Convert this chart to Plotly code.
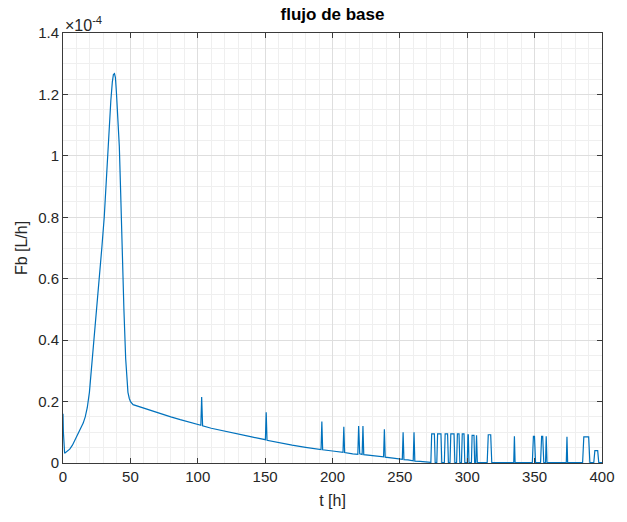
import plotly.graph_objects as go

# Base flow Fb over time, values in units of 1e-4 L/h
t_h = [
    0.0, 0.3, 1.2, 3.0, 5.0, 7.0, 9.0, 11.0, 13.0, 15.0, 16.5, 18.0, 19.6, 20.8,
    22.0, 23.2, 25.0, 26.9, 28.8, 30.6, 32.4, 34.2, 35.5, 36.6, 37.4, 38.2, 38.9,
    39.6, 40.6, 41.4, 41.8, 42.8, 44.0, 45.2, 46.5, 47.3, 48.2, 49.2, 50.1, 52.0,
    60.0, 70.0, 80.0, 87.0, 95.0, 102.3, 102.9, 103.6,
    110.0, 120.0, 130.0, 140.0, 150.2, 150.8, 151.4,
    160.0, 170.0, 180.0, 191.5, 192.1, 192.7,
    200.0, 207.8, 208.4, 209.0,
    215.0, 218.8, 219.4, 220.2, 222.0, 222.6, 223.2,
    230.0, 237.9, 238.5, 239.1,
    245.0, 251.8, 252.4, 253.0,
    256.0, 259.9, 260.5, 261.1,
    265.0, 270.0, 273.0, 273.6, 275.6, 276.2,
    277.4, 278.0, 280.5, 281.1,
    283.0, 283.6, 285.4, 286.0,
    287.2, 287.8, 290.2, 290.8,
    292.1, 292.7, 293.9, 294.5,
    295.7, 296.3, 297.6, 298.2,
    300.0, 300.5, 300.8, 301.3,
    303.1, 303.6, 305.0, 305.5,
    306.3, 306.9, 307.5,
    314.8, 315.6, 317.4, 318.2,
    334.5, 335.0, 335.5,
    348.3, 349.1, 349.9, 350.7,
    354.4, 355.2, 356.0, 356.8,
    358.1, 358.6, 359.2,
    373.5, 374.0, 374.5,
    385.6, 386.5, 390.1, 391.0,
    393.9, 394.7, 396.8, 397.6,
    400.0,
]

fb_e4 = [
    0.160, 0.100, 0.032, 0.037, 0.045, 0.058, 0.076, 0.095, 0.112, 0.130, 0.150, 0.180, 0.230, 0.290,
    0.350, 0.400, 0.490, 0.600, 0.700, 0.800, 0.950, 1.095, 1.180, 1.240, 1.265, 1.268, 1.255,
    1.210, 1.130, 1.080, 1.030, 0.880, 0.670, 0.500, 0.340, 0.280, 0.230, 0.210, 0.200, 0.190,
    0.178, 0.163, 0.150, 0.141, 0.132, 0.123, 0.215, 0.121,
    0.113, 0.103, 0.094, 0.085, 0.076, 0.165, 0.074,
    0.066, 0.058, 0.051, 0.044, 0.135, 0.043,
    0.039, 0.035, 0.118, 0.034,
    0.030, 0.028, 0.120, 0.030, 0.028, 0.120, 0.027,
    0.024, 0.020, 0.110, 0.019,
    0.016, 0.012, 0.100, 0.011,
    0.010, 0.007, 0.100, 0.006,
    0.005, 0.003, 0.002, 0.095, 0.095, 0.001,
    0.001, 0.095, 0.095, 0.001,
    0.001, 0.095, 0.095, 0.001,
    0.001, 0.095, 0.095, 0.001,
    0.001, 0.095, 0.095, 0.001,
    0.001, 0.095, 0.095, 0.001,
    0.001, 0.092, 0.092, 0.001,
    0.001, 0.090, 0.090, 0.001,
    0.001, 0.090, 0.001,
    0.001, 0.092, 0.092, 0.001,
    0.001, 0.087, 0.001,
    0.001, 0.087, 0.087, 0.001,
    0.001, 0.087, 0.087, 0.001,
    0.001, 0.087, 0.001,
    0.001, 0.085, 0.001,
    0.001, 0.085, 0.085, 0.001,
    0.001, 0.040, 0.040, 0.001,
    0.001,
]

x_ticks = [0, 50, 100, 150, 200, 250, 300, 350, 400]
y_ticks = [0, 0.2, 0.4, 0.6, 0.8, 1.0, 1.2, 1.4]
y_tick_text = ["0", "0.2", "0.4", "0.6", "0.8", "1", "1.2", "1.4"]

FONT = "Liberation Sans, Arial, sans-serif"
AX = "#262626"

fig = go.Figure()
fig.add_trace(go.Scatter(
    x=t_h, y=fb_e4, mode="lines",
    line=dict(color="#0072BD", width=1.2),
    showlegend=False,
))

axis_common = dict(
    showline=True, linecolor="#3a3a3a", linewidth=1, mirror="ticks",
    ticks="inside", ticklen=5, tickcolor="#3a3a3a", tickwidth=1,
    showgrid=True, gridcolor="#dedede", gridwidth=1,
    zeroline=False,
    tickfont=dict(family=FONT, size=15, color=AX),
)

fig.update_xaxes(
    range=[0, 400], tickvals=x_ticks,
    minor=dict(dtick=10, showgrid=True, gridcolor="#efefef", gridwidth=1, ticks=""),
    title=dict(text="t [h]", font=dict(family=FONT, size=16, color=AX), standoff=10),
    **axis_common,
)
fig.update_yaxes(
    range=[0, 1.4], tickvals=y_ticks, ticktext=y_tick_text,
    minor=dict(dtick=0.05, showgrid=True, gridcolor="#efefef", gridwidth=1, ticks=""),
    title=dict(text="Fb [L/h]", font=dict(family=FONT, size=16, color=AX), standoff=6),
    **axis_common,
)

fig.add_annotation(
    xref="paper", yref="paper", x=0, y=1, xanchor="left", yanchor="bottom",
    text="×10<sup>-4</sup>", showarrow=False,
    font=dict(family=FONT, size=16, color=AX), xshift=0, yshift=-3,
)

fig.update_layout(
    width=627, height=522,
    margin=dict(l=63, r=18, t=33, b=59),
    paper_bgcolor="white", plot_bgcolor="white",
    title=dict(text="<b>flujo de base</b>", x=0.5, xref="paper", xanchor="center",
               y=1, yref="container", yanchor="top", pad=dict(t=8),
               font=dict(family=FONT, size=17, color="black")),
)

fig.write_html("out.html")
